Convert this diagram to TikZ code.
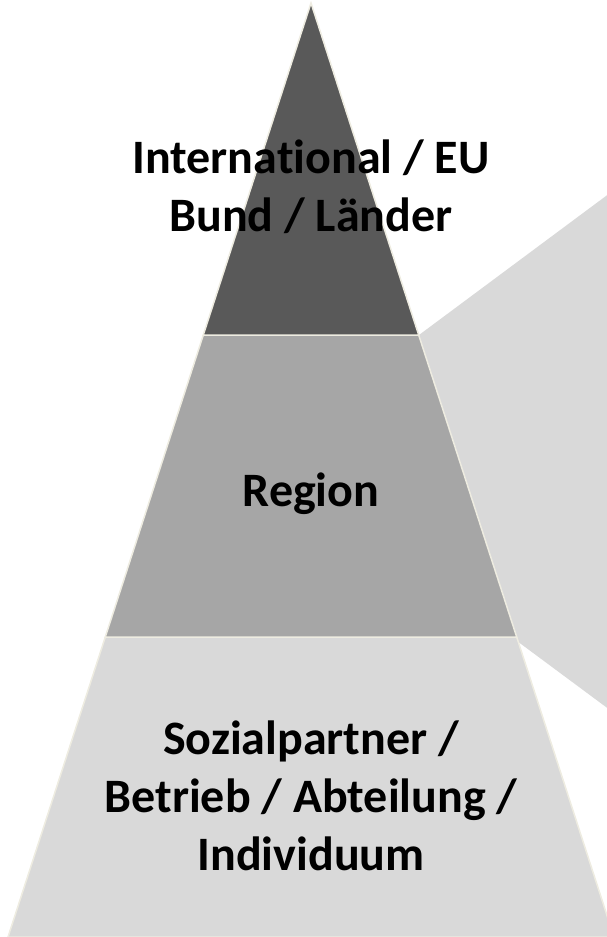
\documentclass[tikz,border=0pt]{standalone}
\usepackage{fontspec}
\setmainfont{Carlito}[Ligatures=NoCommon]
\definecolor{tierdark}{HTML}{595959}
\definecolor{tiermid}{HTML}{A6A6A6}
\definecolor{tierlight}{HTML}{D9D9D9}
\definecolor{cream}{HTML}{EEECE1}
\tikzset{
  tier/.style={draw=cream, line width=1.5pt, line join=miter},
  lbl/.style={anchor=base, inner sep=0pt, font=\bfseries\fontsize{48}{58}\selectfont, text=black}
}
\begin{document}
\begin{tikzpicture}[x=1pt,y=-1pt]
\useasboundingbox (0,0) rectangle (607,937);
\clip (0,0) rectangle (607,937);
% callout
\fill[tierlight] (419,335) -- (610,193) -- (610,710) -- (517,641) -- cycle;
% tiers
\coordinate (apex) at (311,3);
\coordinate (l1) at (203.3,335);
\coordinate (r1) at (418.7,335);
\coordinate (l2) at (105.3,637);
\coordinate (r2) at (516.7,637);
\coordinate (l3) at (8,937);
\coordinate (r3) at (614,937);
\filldraw[tier, fill=tierlight] (l2) -- (r2) -- (r3) -- (l3) -- cycle;
\filldraw[tier, fill=tiermid] (l1) -- (r1) -- (r2) -- (l2) -- cycle;
\filldraw[tier, fill=tierdark] (apex) -- (r1) -- (l1) -- cycle;
% labels
\node[lbl] (t1) at (311,173) {International / EU};
\node[lbl] (t2) at (311,231) {Bund / Länder};
\node[lbl] (m1) at (311,506) {Region};
\node[lbl] (b1) at (311,754) {Sozialpartner /};
\node[lbl] (b2) at (311,812) {Betrieb / Abteilung /};
\node[lbl] (b3) at (311,870) {Individuum};
\end{tikzpicture}
\end{document}
